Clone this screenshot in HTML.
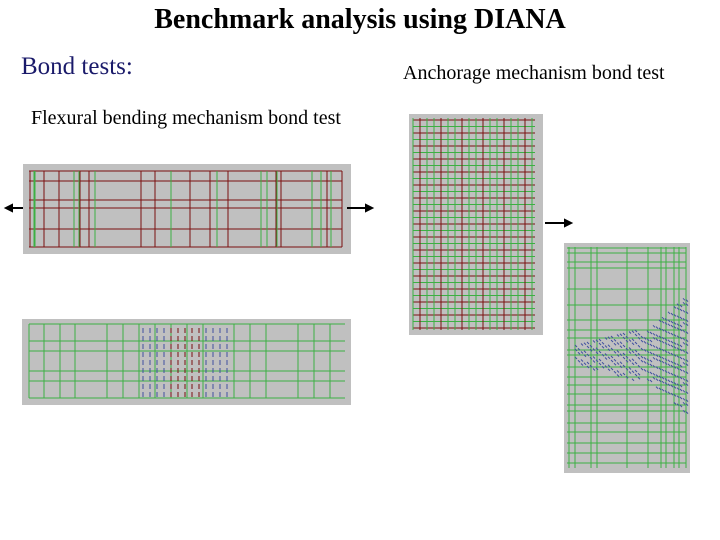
<!DOCTYPE html>
<html><head><meta charset="utf-8"><style>
body{margin:0;background:#fff;width:720px;height:540px;overflow:hidden;font-family:"Liberation Serif",serif}
.t{position:absolute;white-space:nowrap;color:#000}
</style></head><body>
<div class="t" style="left:0;width:720px;text-align:center;top:4px;font-size:28px;font-weight:bold">Benchmark analysis using DIANA</div>
<div class="t" style="left:21px;top:53px;font-size:25px;color:#1a1a6a">Bond tests:</div>
<div class="t" style="left:403px;top:62px;font-size:20px">Anchorage mechanism bond test</div>
<div class="t" style="left:31px;top:107px;font-size:20px">Flexural bending mechanism bond test</div>
<svg id="s" width="720" height="540" style="position:absolute;left:0;top:0">
<rect x="23" y="164" width="328" height="90" fill="#c0c0c0"/>
<rect x="22" y="319" width="329" height="86" fill="#c0c0c0"/>
<rect x="409" y="114" width="134" height="221" fill="#c0c0c0"/>
<rect x="564" y="243" width="126" height="230" fill="#c0c0c0"/>
<g id="g"></g>
<g stroke="#000" stroke-width="2" fill="#000">
<line x1="10" y1="208" x2="23" y2="208"/><polygon points="6,208 12,205 12,211"/>
<line x1="347" y1="208" x2="367" y2="208"/><polygon points="372,208 366,205 366,211"/>
<line x1="545" y1="223" x2="566" y2="223"/><polygon points="571,223 565,220 565,226"/>
</g>
</svg>
<script>
var g=document.getElementById('g'),h='';
function L(x1,y1,x2,y2,c,w){h+='<line x1="'+x1+'" y1="'+y1+'" x2="'+x2+'" y2="'+y2+'" stroke="'+c+'" stroke-width="'+(w||1)+'"/>';}
var R='#7a1010',G='#3cb043',B='#4050a0';
[171,181,200,208,229,247].forEach(function(y){L(29,y,342,y,R)});
[30,34,44,59,74,80,89,95,141,155,171,190,210,217,228,261,267,276,281,312,321,327,331,342].forEach(function(x,i){L(x,171,x,247,(i%3==1)?G:R)});
[35,79,95,261,277,321].forEach(function(x){L(x,171,x,247,G)});
[324,341,351,371,381,398].forEach(function(y){L(29,y,345,y,G)});
[29,44,60,75,107,123,139,155,171,187,203,234,250,266,298,314,330].forEach(function(x){L(x,324,x,398,G)});
for(var x=143;x<232;x+=7){for(var y=328;y<395;y+=8){L(x,y,x,y+5,(x>170&&x<200)?R:B)}}
for(var y=120;y<330;y+=6.5)L(413,y,535,y,(Math.round(y)%13<6)?R:G);
for(var x=413;x<536;x+=7)L(x,118,x,330,(Math.round(x)%3==0)?R:G);
[248,253,262,268,289,305,320,330,338,350,355,367,377,385,394,405,411,423,432,443,453,463].forEach(function(y){L(567,y,686,y,G)});
[569,575,591,597,627,648,661,666,674,679,686].forEach(function(x){L(x,247,x,468,G)});
for(var x=575;x<687;x+=3){var hh=(x-575)*0.25+10;if(x>640)hh=18+(x-640)*0.9;for(var y=355-hh;y<355+hh;y+=4){if((x*7+y*3)%5<3)L(x,y,x+2,y+2,B)}}
g.innerHTML=h;
</script>
</body></html>
